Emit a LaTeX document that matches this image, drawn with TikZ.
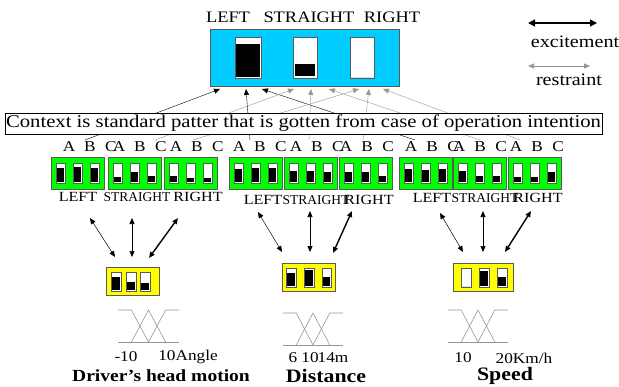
\documentclass[tikz,border=0pt]{standalone}
\usepackage{fontspec}
\setmainfont{Liberation Serif}[FakeStretch=1.15]
\newfontfamily\plainserif{Liberation Serif}
\usetikzlibrary{arrows.meta,positioning}
\definecolor{skyblue}{RGB}{0,204,255}
\definecolor{litgreen}{RGB}{0,255,0}
\definecolor{ltyellow}{RGB}{255,255,0}
\definecolor{linegray}{RGB}{150,150,150}
\definecolor{edgegray}{RGB}{90,90,90}

% one switch: x, top y, width, height, black fraction
\newcommand{\dipsw}[5]{%
  \draw[edgegray, fill=white] (#1,#2) rectangle ++(#3,-#4);
  \fill[black] (#1+1,#2-#4+1) rectangle ++(#3-2,{(#4-2)*#5});}

\tikzset{
  gbox/.style={draw=edgegray, fill=litgreen, minimum width=53pt, minimum height=32pt, inner sep=0pt},
  ybox/.style={draw=edgegray, fill=ltyellow, inner sep=0pt},
  lbl/.style={font=\fontsize{14}{14}\selectfont, inner sep=0pt},
  slbl/.style={font=\plainserif\fontsize{13.5}{14}\selectfont, inner sep=0pt},
  abc/.style={font=\fontsize{15}{15}\selectfont, inner sep=0pt},
  num/.style={font=\fontsize{15}{15}\selectfont, inner sep=0pt},
  ttl/.style={font=\fontsize{19}{19}\selectfont\bfseries, inner sep=0pt, anchor=base},
  exc/.style={black, -{Triangle[length=6pt,width=5pt]}},
  rst/.style={linegray, -{Triangle[length=6pt,width=5pt]}},
  fuzz/.style={linegray, line width=0.6pt},
}

\begin{document}
\begin{tikzpicture}[x=1pt,y=1pt]
  \useasboundingbox (0,0) rectangle (619,-386);

  % output switches
  \node[draw=edgegray, fill=skyblue, minimum width=189pt, minimum height=57pt, inner sep=0pt] (out) at (304.5,-57.5) {};
  \dipsw{235}{-37}{26}{41}{0.85}
  \draw[edgegray, fill=white] (293,-37) rectangle ++(24,-41);
  \fill[black] (295,-76) rectangle ++(20,12);
  \dipsw{350}{-37}{24}{41}{0}
  \node[lbl, font=\fontsize{16}{16}\selectfont] (tl) at (228,-17) {LEFT};
  \node[lbl, font=\fontsize{16}{16}\selectfont] (ts) at (309,-17) {STRAIGHT};
  \node[lbl, font=\fontsize{16}{16}\selectfont] (tr) at (392,-17) {RIGHT};

  % legend
  \coordinate (ea) at (528,-23);
  \coordinate (eb) at (597,-23);
  \draw[very thick, {Triangle[length=7pt,width=7pt]}-{Triangle[length=7pt,width=7pt]}] (ea) -- (eb);
  \node[lbl, font=\fontsize{17.5}{17.5}\selectfont] (et) at (575,-42) {excitement};
  \coordinate (ra) at (528,-66);
  \coordinate (rb) at (590,-66);
  \draw[linegray, {Triangle[length=6pt,width=5pt]}-{Triangle[length=6pt,width=5pt]}] (ra) -- (rb);
  \node[lbl, font=\fontsize{17.5}{17.5}\selectfont] (rt) at (569,-80) {restraint};

  % links to the output switches
  \foreach \a/\b/\s [count=\i] in {85/220/exc, 250/246/exc, 415/262/exc,
      155/294/rst, 309/311/rst, 480/329/rst,
      193/359/rst, 363/369/rst, 520/383/rst}{
    \coordinate (p\i) at (\a,-140);
    \coordinate (q\i) at (\b,-89);
    \draw[\s] (p\i) -- (q\i);
  }

  % context
  \node[draw=black, fill=white, minimum width=597pt, minimum height=21pt, inner sep=0pt,
        font=\fontsize{18}{18}\selectfont] (ctx) at (303.5,-123.5)
        {Context is standard patter that is gotten from case of operation intention};

  % context patterns
  \foreach \nm/\bx/\la/\lb/\lc/\bB in {g11/51/0.8/0.85/0.8/90, g12/108/0.3/0.55/0.35/140, g13/164/0.35/0.25/0.2/197,
      g21/229/0.7/0.8/0.8/260, g22/284/0.6/0.6/0.55/317, g23/339/0.55/0.55/0.35/367,
      g31/399/0.75/0.65/0.75/432, g32/453/0.6/0.35/0.35/480, g33/508/0.3/0.3/0.55/537}{
    \node[gbox] (\nm) at (\bx+26.5,-173) {};
    \dipsw{\bx+5}{-163}{9}{20}{\la}
    \dipsw{\bx+22}{-163}{9}{20}{\lb}
    \dipsw{\bx+39}{-163}{9}{20}{\lc}
    \node[abc] (\nm a) at (\bB-21,-147) {A};
    \node[abc] (\nm b) at (\bB,-147) {B};
    \node[abc] (\nm c) at (\bB+21,-147) {C};
  }
  \node[lbl] (l1) at (78,-197) {LEFT};
  \node[slbl] (s1) at (137,-197) {STRAIGHT};
  \node[lbl] (r1) at (198,-197) {RIGHT};
  \node[lbl] (l2) at (263,-200) {LEFT};
  \node[slbl] (s2) at (316,-200) {STRAIGHT};
  \node[lbl] (r2) at (369,-200) {RIGHT};
  \node[lbl] (l3) at (432,-198) {LEFT};
  \node[slbl] (s3) at (485,-198) {STRAIGHT};
  \node[lbl] (r3) at (538,-198) {RIGHT};

  % inputs
  \node[ybox, minimum width=53pt, minimum height=28pt] (y1) at (132.5,-281) {};
  \dipsw{111}{-272}{10}{19}{0.75}
  \dipsw{126}{-272}{10}{19}{0.45}
  \dipsw{140}{-272}{10}{19}{0.4}
  \node[ybox, minimum width=53pt, minimum height=28pt] (y2) at (308.5,-277) {};
  \dipsw{286}{-268}{10}{19}{0.75}
  \dipsw{304}{-268}{10}{19}{0.95}
  \dipsw{322}{-268}{9}{19}{0.55}
  \node[ybox, minimum width=60pt, minimum height=28pt] (y3) at (483,-277) {};
  \dipsw{461}{-268}{10}{19}{0}
  \dipsw{479}{-268}{10}{19}{0.9}
  \dipsw{497}{-268}{10}{19}{0.55}

  % two-way links
  \foreach \a/\b/\c/\d/\w [count=\i] in {90/218/115/257/0.5pt, 132/218/132/257/0.7pt, 178/218/149/258/1.4pt,
      258/212/282/252/0.5pt, 310/211/310/252/0.7pt, 352/211/333/253/1.4pt,
      440/213/463/252/0.5pt, 483/211/483/252/0.7pt, 531/211/505/252/1.4pt}{
    \coordinate (u\i) at (\a,-\b);
    \coordinate (v\i) at (\c,-\d);
    \draw[line width=\w, {Triangle[length=6pt,width=5pt]}-{Triangle[length=6pt,width=5pt]}] (u\i) -- (v\i);
  }

  % membership functions
  \foreach \x/\t/\w [count=\i] in {118/310/61, 283/313/60, 448/310/60}{
    \draw[fuzz] (\x,-\t) -- (\x+0.22*\w,-\t) -- (\x+0.5*\w,-\t-32);
    \draw[fuzz] (\x+0.22*\w,-\t-32) -- (\x+0.5*\w,-\t) -- (\x+0.78*\w,-\t-32);
    \draw[fuzz] (\x+0.5*\w,-\t-32) -- (\x+0.78*\w,-\t) -- (\x+\w,-\t);
    \draw[fuzz] (\x,-\t-32) -- (\x+\w,-\t-32);
  }
  \node[num] (n1) at (126,-357) {-10};
  \node[num] (n2) at (188,-357) {10Angle};
  \node[ttl, font=\fontsize{17}{17}\selectfont\bfseries] (h1) at (161,-381) {Driver's head motion};
  \node[num] (n3) at (293,-358) {6};
  \node[num] (n4) at (310,-358) {10};
  \node[num] (n5) at (333,-358) {14m};
  \node[ttl] (h2) at (326,-382) {Distance};
  \node[num] (n6) at (463,-358) {10};
  \node[num] (n7) at (524,-358) {20Km/h};
  \node[ttl] (h3) at (505,-380) {Speed};
\end{tikzpicture}
\end{document}
